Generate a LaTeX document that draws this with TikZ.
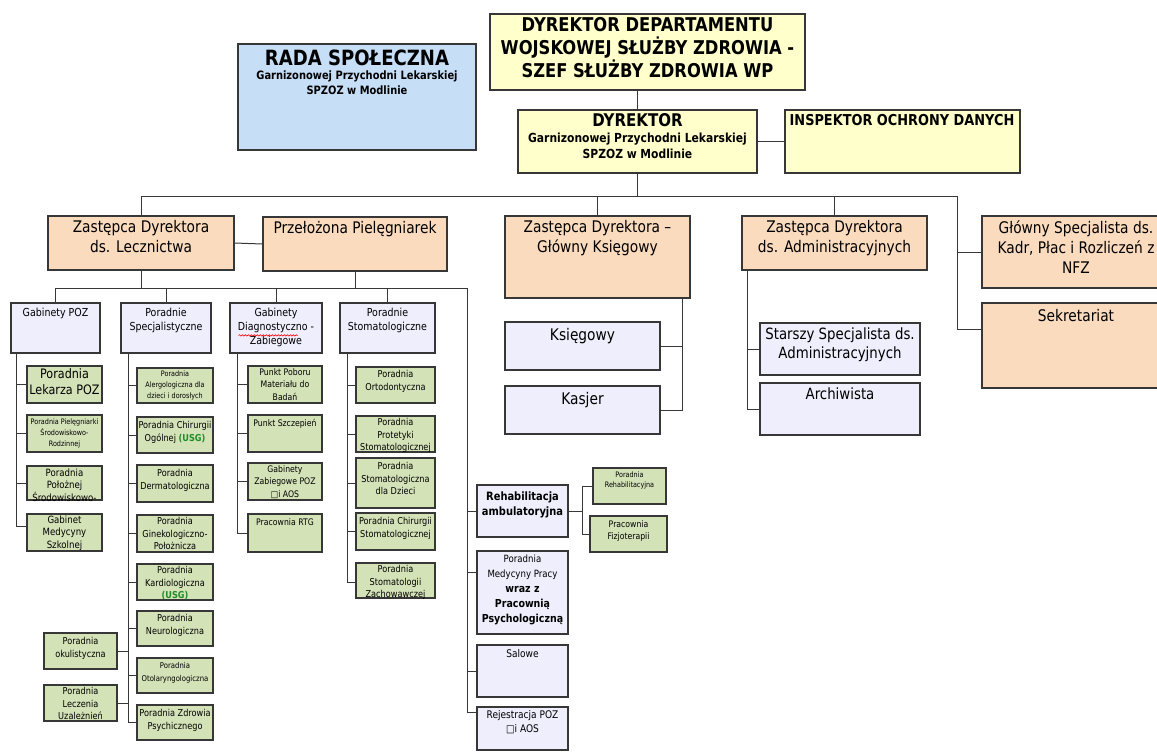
\documentclass[tikz,border=0pt]{standalone}
\usepackage{fontspec}
\setmainfont{DejaVu Sans}[FakeStretch=0.86]
\usetikzlibrary{fit,decorations.pathmorphing}
\definecolor{yel}{RGB}{255,255,204}
\definecolor{blu}{RGB}{198,222,246}
\definecolor{pch}{RGB}{251,219,190}
\definecolor{lav}{RGB}{238,238,252}
\definecolor{grn}{RGB}{212,226,184}
\definecolor{lnc}{RGB}{55,55,55}
\definecolor{usg}{RGB}{30,140,40}
\newcommand{\fs}[2]{\fontsize{#1}{#2}\selectfont}
% name, box style, text options, corner1, corner2, top pad, text
\newcommand{\obox}[7]{%
  \node[#2, fit={#4 #5}] (#1) {};
  \node[txt, #3] (#1-t) at ([yshift=-#6pt]#1.north) {#7};}
\tikzset{
  box/.style={draw=lnc, line width=1.1pt, inner sep=0pt},
  ybox/.style={box, fill=yel},
  bbox/.style={box, fill=blu},
  pbox/.style={box, fill=pch},
  lbox/.style={box, fill=lav},
  gbox/.style={box, fill=grn},
  txt/.style={anchor=north, align=center, inner sep=0pt, text=black},
  conn/.style={draw=lnc, line width=1pt},
}
\begin{document}
\begin{tikzpicture}[x=1pt,y=-1pt]
\fill[white] (0,0) rectangle (1157,752);
\useasboundingbox (0,0) rectangle (1157,752);

% ---- top level
\obox{rada}{bbox}{font=\fs{11.5}{14.5}\bfseries}{(238,44)}{(476,150)}{6}{{\fs{21}{25}RADA SPOŁECZNA}\\Garnizonowej Przychodni Lekarskiej\\SPZOZ w Modlinie}
\obox{dep}{ybox}{font=\fs{19}{23}\bfseries}{(490,14)}{(805,90)}{4}{DYREKTOR DEPARTAMENTU\\WOJSKOWEJ SŁUŻBY ZDROWIA -\\SZEF SŁUŻBY ZDROWIA WP}
\obox{dyr}{ybox}{font=\fs{12.5}{16}\bfseries}{(518,110)}{(757,173)}{4}{{\fs{17.5}{20}DYREKTOR}\\Garnizonowej Przychodni Lekarskiej\\SPZOZ w Modlinie}
\node[ybox, fit={(785,110) (1020,173)}] (insp) {};
\node[txt, anchor=north west, font=\fs{15}{18}\bfseries] (insp-t) at ([xshift=5pt,yshift=-5pt]insp.north west) {INSPEKTOR OCHRONY DANYCH};

\draw[conn] (dyr.north) -- (dyr.north |- dep.south);
\draw[conn] (dyr.east) -- (insp.west);

% ---- second level
\obox{zl}{pbox}{font=\fs{16}{20}}{(48,216)}{(234,270)}{5}{Zastępca Dyrektora\\ds. Lecznictwa}
\obox{pp}{pbox}{font=\fs{16}{20}}{(263,217)}{(447,271)}{5}{Przełożona Pielęgniarek}
\obox{zgk}{pbox}{font=\fs{16}{20}}{(505,216)}{(690,298)}{5}{Zastępca Dyrektora –\\Główny Księgowy}
\obox{zadm}{pbox}{font=\fs{16}{20}}{(742,216)}{(927,270)}{5}{Zastępca Dyrektora\\ds. Administracyjnych}
\obox{gs}{pbox}{font=\fs{16}{20}}{(982,216)}{(1170,288)}{5}{Główny Specjalista ds.\\Kadr, Płac i Rozliczeń z\\NFZ}
\obox{sek}{pbox}{font=\fs{16}{20}}{(982,303)}{(1170,388)}{7}{Sekretariat}

\coordinate (busW) at (zl.north |- 0,196);
\coordinate (busE) at (957,196);
\draw[conn] (busW) -- (busE);
\draw[conn] (dyr.south) -- (dyr.south |- busW);
\draw[conn] (zl.north) -- (busW);
\draw[conn] (zgk.north) -- (zgk.north |- busW);
\draw[conn] (zadm.north) -- (zadm.north |- busW);
\draw[conn] (busE) |- (gs.west);
\draw[conn] (busE) |- ([yshift=-27pt]sek.north west);
\draw[conn] (zl.east) -- (pp.west);

% ---- ksiegowy group
\obox{ksieg}{lbox}{font=\fs{16}{18}}{(505,322)}{(660,370)}{7}{Księgowy}
\obox{kasjer}{lbox}{font=\fs{16}{18}}{(505,386)}{(660,434)}{7}{Kasjer}
\coordinate (kv) at ([xshift=-8pt]zgk.south east);
\draw[conn] (kv) |- (kasjer.east);
\draw[conn] (ksieg.east) -- (ksieg.east -| kv);

% ---- administracja group
\obox{star}{lbox}{font=\fs{15.5}{19}}{(760,323)}{(920,375)}{5}{Starszy Specjalista ds.\\Administracyjnych}
\obox{arch}{lbox}{font=\fs{15.5}{19}}{(760,383)}{(920,435)}{5}{Archiwista}
\coordinate (av) at ([xshift=6pt]zadm.south west);
\draw[conn] (av) |- (arch.west);
\draw[conn] (star.west) -- (star.west -| av);

% ---- third level
\obox{gpoz}{lbox}{font=\fs{11}{14}}{(11,303)}{(100,353)}{5}{Gabinety POZ}
\obox{pspec}{lbox}{font=\fs{11}{14}}{(121,303)}{(211,353)}{5}{Poradnie\\Specjalistyczne}
\obox{gdiag}{lbox}{font=\fs{11}{14}}{(230,303)}{(322,353)}{5}{Gabinety\\Diagnostyczno -\\Zabiegowe}
\obox{pstom}{lbox}{font=\fs{11}{14}}{(340,303)}{(435,353)}{5}{Poradnie\\Stomatologiczne}
\draw[red, line width=0.6pt, decorate, decoration={snake, amplitude=0.7pt, segment length=3pt}]
  ([xshift=9pt,yshift=-33pt]gdiag.north west) -- ([xshift=-25pt,yshift=-33pt]gdiag.north east);

\coordinate (bus2W) at (gpoz.north |- 0,288);
\coordinate (bus2E) at (467,288);
\draw[conn] (bus2W) -- (bus2E);
\draw[conn] (zl.south) -- (zl.south |- bus2W);
\draw[conn] (pp.south) -- (pp.south |- bus2W);
\draw[conn] (gpoz.north) -- (bus2W);
\draw[conn] (pspec.north) -- (pspec.north |- bus2W);
\draw[conn] (gdiag.north) -- (gdiag.north |- bus2W);
\draw[conn] (pstom.north) -- (pstom.north |- bus2W);

% ---- Gabinety POZ children
\obox{g1}{gbox}{font=\fs{13}{16}}{(27,366)}{(102,403)}{3}{Poradnia\\Lekarza POZ}
\obox{g2}{gbox}{font=\fs{7.5}{11}}{(27,415)}{(102,452)}{4}{Poradnia Pielęgniarki\\Środowiskowo-\\Rodzinnej}
\obox{g3}{gbox}{font=\fs{10}{12.5}}{(27,466)}{(102,500)}{3}{Poradnia\\Położnej\\Środowiskowo-}
\obox{g4}{gbox}{font=\fs{10}{12.5}}{(27,514)}{(102,551)}{2}{Gabinet\\Medycyny\\Szkolnej}
\coordinate (gv) at ([xshift=6pt]gpoz.south west);
\draw[conn] (gv) |- ([yshift=-13pt]g4.north west);
\foreach \n in {g1,g2,g3} \draw[conn] (\n.west) -- (\n.west -| gv);

% ---- Poradnie Specjalistyczne children
\obox{s1}{gbox}{font=\fs{7.5}{11}}{(137,368)}{(213,403)}{3}{Poradnia\\Alergologiczna dla\\dzieci i dorosłych}
\obox{s2}{gbox}{font=\fs{9.5}{12.5}}{(137,417)}{(213,453)}{5}{Poradnia Chirurgii\\Ogólnej \textcolor{usg}{\bfseries(USG)}}
\obox{s3}{gbox}{font=\fs{9.5}{12.5}}{(137,465)}{(213,502)}{5}{Poradnia\\Dermatologiczna}
\obox{s4}{gbox}{font=\fs{9.5}{12.5}}{(137,515)}{(213,552)}{3}{Poradnia\\Ginekologiczno-\\Położnicza}
\obox{s5}{gbox}{font=\fs{9.5}{12.5}}{(137,564)}{(213,600)}{3}{Poradnia\\Kardiologiczna\\\textcolor{usg}{\bfseries(USG)}}
\obox{s6}{gbox}{font=\fs{9.5}{12.5}}{(137,611)}{(213,646)}{4}{Poradnia\\Neurologiczna}
\obox{s7}{gbox}{font=\fs{8}{12.5}}{(137,658)}{(213,693)}{5}{Poradnia\\Otolaryngologiczna}
\obox{s8}{gbox}{font=\fs{9.5}{12.5}}{(137,705)}{(213,740)}{5}{Poradnia Zdrowia\\Psychicznego}
\coordinate (pv) at ([xshift=8pt]pspec.south west);
\draw[conn] (pv) |- (s8.west);
\foreach \n in {s1,s2,s3,s4,s5,s6,s7} \draw[conn] (\n.west) -- (\n.west -| pv);
\obox{okul}{gbox}{font=\fs{9.5}{12.5}}{(44,633)}{(117,669)}{5}{Poradnia\\okulistyczna}
\obox{lecz}{gbox}{font=\fs{9.5}{12.5}}{(44,685)}{(117,721)}{3}{Poradnia\\Leczenia\\Uzależnień}
\draw[conn] (okul.east) -- (okul.east -| pv);
\draw[conn] (lecz.east) -- (lecz.east -| pv);

% ---- Gabinety Diagnostyczno-Zabiegowe children
\obox{d1}{gbox}{font=\fs{9}{12.5}}{(248,366)}{(322,403)}{3}{Punkt Poboru\\Materiału do\\Badań}
\obox{d2}{gbox}{font=\fs{9}{12.5}}{(248,415)}{(322,452)}{5}{Punkt Szczepień}
\obox{d3}{gbox}{font=\fs{9}{12.5}}{(248,463)}{(322,500)}{3}{Gabinety\\Zabiegowe POZ\\□i AOS}
\obox{d4}{gbox}{font=\fs{9}{12.5}}{(248,514)}{(322,552)}{5}{Pracownia RTG}
\coordinate (dv) at ([xshift=8pt]gdiag.south west);
\draw[conn] (dv) |- ([yshift=-20pt]d4.north west);
\foreach \n in {d1,d2,d3} \draw[conn] (\n.west) -- (\n.west -| dv);

% ---- Poradnie Stomatologiczne children
\obox{t1}{gbox}{font=\fs{9.5}{12.5}}{(356,367)}{(435,403)}{4}{Poradnia\\Ortodontyczna}
\obox{t2}{gbox}{font=\fs{9.5}{12.5}}{(356,416)}{(435,452)}{3}{Poradnia\\Protetyki\\Stomatologicznej}
\obox{t3}{gbox}{font=\fs{9.5}{12.5}}{(356,458)}{(435,508)}{5}{Poradnia\\Stomatologiczna\\dla Dzieci}
\obox{t4}{gbox}{font=\fs{9.5}{12.5}}{(356,513)}{(435,550)}{5}{Poradnia Chirurgii\\Stomatologicznej}
\obox{t5}{gbox}{font=\fs{9.5}{12.5}}{(356,563)}{(435,598)}{3}{Poradnia\\Stomatologii\\Zachowawczej}
\coordinate (tv) at ([xshift=8pt]pstom.south west);
\draw[conn] (tv) |- ([yshift=-20pt]t5.north west);
\foreach \n in {t1,t2,t3,t4} \draw[conn] (\n.west) -- (\n.west -| tv);

% ---- right column
\obox{reh}{lbox}{font=\fs{11.5}{15}\bfseries}{(477,485)}{(568,537)}{7}{Rehabilitacja\\ambulatoryjna}
\obox{mp}{lbox}{font=\fs{10}{15}}{(477,551)}{(568,634)}{4}{Poradnia\\Medycyny Pracy\\{\fs{11}{15}\bfseries wraz z}\\{\fs{11}{15}\bfseries Pracownią}\\{\fs{11}{15}\bfseries Psychologiczną}}
\obox{sal}{lbox}{font=\fs{10.5}{13}}{(477,645)}{(568,697)}{5}{Salowe}
\obox{rej}{lbox}{font=\fs{10.5}{13.5}}{(477,707)}{(568,750)}{4}{Rejestracja POZ\\□i AOS}
\draw[conn] (bus2E) |- ([yshift=-6pt]rej.north west);
\draw[conn] (reh.west) -- (reh.west -| bus2E);
\draw[conn] ([yshift=-22pt]mp.north west) -- ([yshift=-22pt]mp.north west -| bus2E);
\draw[conn] (sal.west) -- (sal.west -| bus2E);

\obox{prh}{gbox}{font=\fs{7.5}{10}}{(593,468)}{(666,504)}{4}{Poradnia\\Rehabilitacyjna}
\obox{pfz}{gbox}{font=\fs{9}{12.5}}{(590,516)}{(667,552)}{5}{Pracownia\\Fizjoterapii}
\coordinate (rv) at (582,0);
\draw[conn] (reh.east) -- (reh.east -| rv);
\draw[conn] (prh.west) -| (pfz.west -| rv) -- (pfz.west);
\end{tikzpicture}
\end{document}
